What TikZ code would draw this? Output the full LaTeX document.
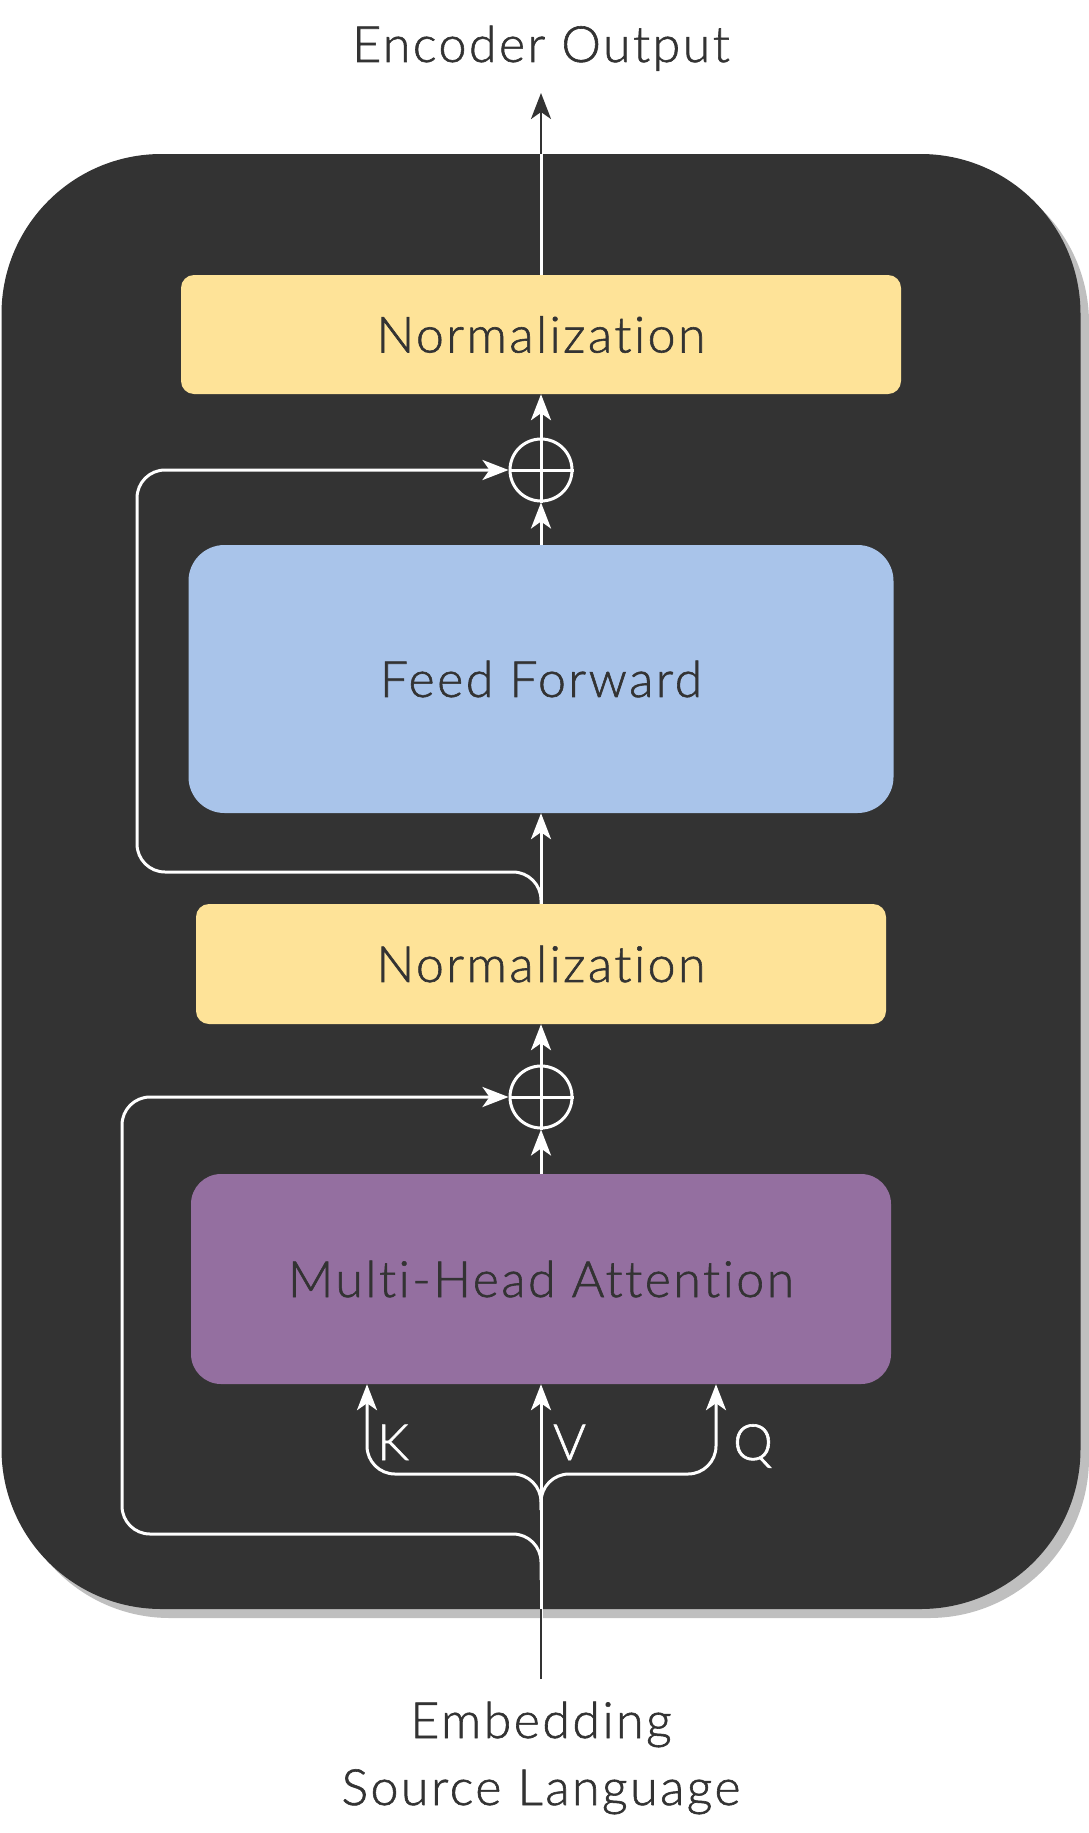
\documentclass[tikz,border=0pt]{standalone}
\usepackage{fontspec}
\setmainfont{Lato Light}[Ligatures=NoCommon, LetterSpace=5, FakeBold=1.2]
\usetikzlibrary{arrows.meta}
\definecolor{dk}{HTML}{333333}
\definecolor{normc}{HTML}{FEE398}
\definecolor{ffc}{HTML}{A9C4EA}
\definecolor{mhac}{HTML}{946FA0}
\definecolor{shc}{HTML}{BFBFBF}
\begin{document}
\begin{tikzpicture}[x=1pt,y=-1pt,
  box/.style={rectangle, inner sep=0pt, text=dk, font=\fontsize{50}{60}\selectfont},
  lbl/.style={inner sep=0pt, text=dk, font=\fontsize{50}{60}\selectfont},
  kvq/.style={inner sep=0pt, text=white, font=\fontsize{50}{60}\selectfont},
  wl/.style={draw=white, line width=3pt},
  dl/.style={draw=dk, line width=2.6pt},
  arr/.style={-{Stealth[length=26pt,width=20pt,inset=7pt]}},
  plus/.style={circle, draw=white, line width=3pt, minimum size=62pt, inner sep=0pt},
  rc/.style={rounded corners=28pt}]
\useasboundingbox (0,0) rectangle (1089,1833);
% outer block
\fill[shc, rounded corners=160pt] (10,163) rectangle (1089,1618);
\node[rectangle, fill=dk, rounded corners=160pt, minimum width=1079pt, minimum height=1455pt, inner sep=0pt] (enc) at (541,881.5) {};
% boxes
\node[box, fill=normc, rounded corners=13pt, minimum width=720pt, minimum height=119pt] (n2) at (541,334.5) {Normalization};
\node[box, fill=ffc, rounded corners=36pt, minimum width=705pt, minimum height=268pt] (ff) at (541,679) {Feed Forward};
\node[box, fill=normc, rounded corners=13pt, minimum width=690pt, minimum height=120pt] (n1) at (541,964) {Normalization};
\node[box, fill=mhac, rounded corners=30pt, minimum width=700pt, minimum height=210pt] (mha) at (541,1279) {Multi-Head Attention};
% plus nodes
\node[plus] (p2) at (541,470) {};
\node[plus] (p1) at (541,1097) {};
\draw[wl] (p1.north) -- (p1.south) (p1.west) -- (p1.east);
\draw[wl] (p2.north) -- (p2.south) (p2.west) -- (p2.east);
% coordinates
\coordinate (src) at (541,1679);
\coordinate (outtip) at (541,93);
\coordinate (kx) at (367,1474);
\coordinate (qx) at (716,1474);
% main flow
\draw[wl,arr] (src) -- (mha.south);
\draw[dl] (src) -- (enc.south);
\draw[wl,arr,rc] (541,1510) -- (541,1474) -- (kx) -- (kx |- mha.south);
\draw[wl,arr,rc] (541,1510) -- (541,1474) -- (qx) -- (qx |- mha.south);
\draw[wl,arr,rc] (541,1580) -- (541,1534) -- (122,1534) -- (122,1097) -- (p1.west);
\draw[wl,arr] (mha.north) -- (p1.south);
\draw[wl,arr] (p1.north) -- (n1.south);
\draw[wl,arr] (n1.north) -- (ff.south);
\draw[wl,arr,rc] (n1.north) -- (541,872) -- (137,872) -- (137,470) -- (p2.west);
\draw[wl,arr] (ff.north) -- (p2.south);
\draw[wl,arr] (p2.north) -- (n2.south);
\draw[wl] (n2.north) -- (enc.north);
\draw[dl,arr] (enc.north) -- (outtip);
% labels
\node[kvq, anchor=base west] (kl) at (377,1460) {K};
\node[kvq, anchor=base west] (vl) at (553,1460) {V};
\node[kvq, anchor=base west] (ql) at (733,1460) {Q};
\node[lbl, anchor=base] (outl) at (541,62) {Encoder Output};
\node[lbl, anchor=base] (emb) at (541,1738) {Embedding};
\node[lbl, anchor=base] (srcl) at (541,1805) {Source Language};
\end{tikzpicture}
\end{document}
